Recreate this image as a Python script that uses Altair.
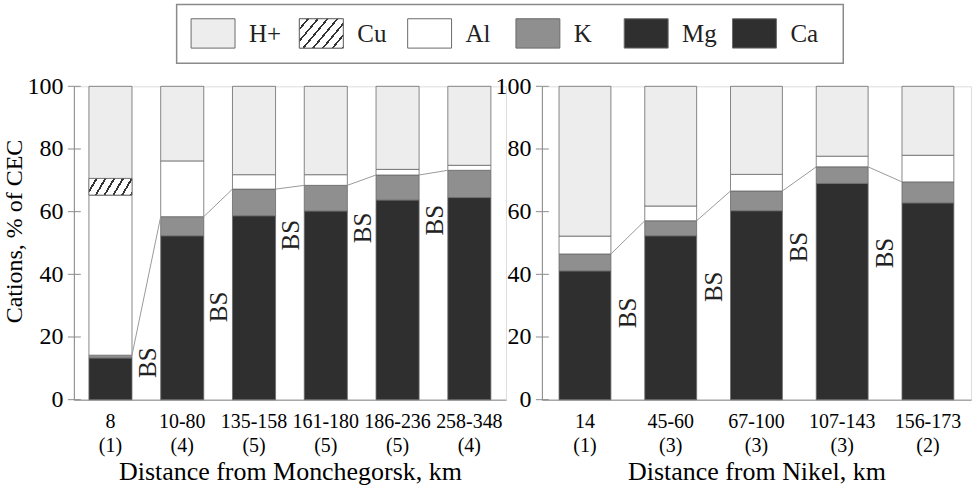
import altair as alt
import pandas as pd

# ---------------- data ----------------
SEGS = ["Ca+Mg", "K", "Al", "Cu", "H+"]

left_dist = ["8", "10-80", "135-158", "161-180", "186-236", "258-348"]
left_n = [1, 4, 5, 5, 5, 4]
left_camg = [13.3, 52.3, 58.7, 60.2, 63.7, 64.5]
left_k = [0.9, 6.1, 8.5, 8.2, 8.0, 8.7]
left_al = [51.1, 17.8, 4.6, 3.4, 1.8, 1.6]
left_cu = [5.3, 0, 0, 0, 0, 0]
left_h = [29.4, 23.8, 28.2, 28.2, 26.5, 25.2]
left_bs_label_y = [11.8, 29.6, 52.5, 54.8, 57.3]

right_dist = ["14", "45-60", "67-100", "107-143", "156-173"]
right_n = [1, 3, 3, 3, 2]
right_camg = [41.1, 52.3, 60.3, 69.0, 62.8]
right_k = [5.4, 4.8, 6.3, 5.3, 6.7]
right_al = [5.7, 4.7, 5.3, 3.4, 8.5]
right_cu = [0, 0, 0, 0, 0]
right_h = [47.8, 38.2, 28.1, 22.3, 22.0]
right_bs_label_y = [27.7, 36.0, 48.7, 46.8]

y_ticks = [0, 20, 40, 60, 80, 100]
legend_names = ["H+", "Cu", "Al", "K", "Mg", "Ca"]

# ---------------- style ----------------
FONT = "Liberation Serif"
TXT = "#222222"
GRAY = "#8c8c8c"
DARK = "#2f2f2f"
K_COL = "#8f8f8f"
H_COL = "#ededed"
AL_COL = "#ffffff"
SEG_COLORS = [DARK, K_COL, AL_COL, AL_COL, H_COL]
LEGEND_COLORS = [H_COL, AL_COL, AL_COL, K_COL, DARK, DARK]


def hatch(n, frac, x2, y2):
    stops = []
    for i in range(n):
        a = i / n
        w = a + (1 - frac) / n
        b = (i + 1) / n
        stops += [
            alt.GradientStop(color="#ffffff", offset=a),
            alt.GradientStop(color="#ffffff", offset=w),
            alt.GradientStop(color="#333333", offset=w),
            alt.GradientStop(color="#333333", offset=b),
        ]
    return alt.LinearGradient(gradient="linear", stops=stops, x1=0, y1=0, x2=x2, y2=y2)


def panel(dist, n, camg, k, al, cu, h, bs_y, width, pad_in, pad_out, title,
          ytitle, gap_shift, with_legend):
    cats = [f"{d}|({m})" for d, m in zip(dist, n)]
    rows = []
    for i, c in enumerate(cats):
        base = 0.0
        for seg, v in zip(SEGS, [camg[i], k[i], al[i], cu[i], h[i]]):
            if v > 0:
                rows.append(dict(cat=c, seg=seg, y0=base, y1=base + v))
            base += v
    df = pd.DataFrame(rows)

    xscale = alt.Scale(domain=cats, paddingInner=pad_in, paddingOuter=pad_out)
    yscale = alt.Scale(domain=[0, 100])

    xaxis = alt.Axis(
        title=title, labelExpr="split(datum.label, '|')", labelAngle=0,
        labelFontSize=20, labelLineHeight=24, ticks=False, tickSize=0,
        labelPadding=12, titleFontSize=26, titlePadding=3, labelOverlap=False,
        labelFont=FONT, titleFont=FONT, titleFontWeight="normal",
    )
    if ytitle:
        yaxis = alt.Axis(
            title=ytitle, values=y_ticks, grid=False, ticks=False, tickSize=6,
            labelPadding=11, labelFontSize=24, titleFontSize=24, titlePadding=0,
            titleY=145, labelFont=FONT, titleFont=FONT, titleFontWeight="normal",
        )
    else:
        yaxis = alt.Axis(
            title=None, values=y_ticks, grid=False, ticks=False, tickSize=6,
            labelPadding=11, labelFontSize=24, labelFont=FONT,
        )

    bars = alt.Chart(df).mark_bar(stroke="#6a6a6a", strokeWidth=0.8).encode(
        x=alt.X("cat:N", scale=xscale, axis=xaxis),
        y=alt.Y("y0:Q", scale=yscale, axis=yaxis),
        y2="y1:Q",
        fill=alt.Fill("seg:N", scale=alt.Scale(domain=SEGS, range=SEG_COLORS), legend=None),
    )
    layers = [bars]

    # tick marks crossing the y axis line
    ticks = alt.Chart(pd.DataFrame({"t": y_ticks})).mark_rule(
        color=GRAY, strokeWidth=1
    ).encode(y="t:Q", x=alt.value(-6), x2=alt.value(7))
    layers.append(ticks)

    if any(v > 0 for v in cu):
        cu_layer = alt.Chart(df).transform_filter("datum.seg == 'Cu'").mark_bar(
            fill=hatch(6, 0.24, 1.167, 0.265), stroke="#6a6a6a", strokeWidth=0.8
        ).encode(x="cat:N", y="y0:Q", y2="y1:Q")
        layers.append(cu_layer)

    bs = [a + b for a, b in zip(camg, k)]
    bs_df = pd.DataFrame({
        "from": cats[:-1], "to": cats[1:], "v0": bs[:-1], "v1": bs[1:],
        "ly": bs_y,
    })
    rule = alt.Chart(bs_df).mark_rule(color="#9a9a9a", strokeWidth=1).encode(
        x=alt.X("from:N", bandPosition=1),
        x2=alt.X2("to:N", bandPosition=0),
        y="v0:Q", y2="v1:Q",
    )
    txt = alt.Chart(bs_df).mark_text(
        text="BS", angle=270, fontSize=25, font=FONT, color=TXT,
        align="center", baseline="middle", dy=-gap_shift,
    ).encode(x=alt.X("to:N", bandPosition=0), y="ly:Q")
    layers += [rule, txt]

    if with_legend:
        leg = pd.DataFrame({"name": legend_names, "slot": list(range(len(legend_names))),
                            "col": LEGEND_COLORS})
        box = alt.Chart(pd.DataFrame({"a": [0]})).mark_rect(
            fill="transparent", stroke="#8a8a8a", strokeWidth=1.5
        ).encode(x=alt.value(103), x2=alt.value(771), y=alt.value(-82), y2=alt.value(-23))
        base = alt.Chart(leg).transform_calculate(
            px="117.5 + 108.5 * datum.slot", px2="117.5 + 108.5 * datum.slot + 44",
            lx="117.5 + 108.5 * datum.slot + 58",
        )
        sym = base.mark_rect(stroke="#6a6a6a", strokeWidth=1).encode(
            x=alt.X("px:Q", scale=None), x2="px2:Q",
            y=alt.value(-67.7), y2=alt.value(-38.3),
            fill=alt.Fill("col:N", scale=None),
        )
        sym_cu = base.transform_filter("datum.name == 'Cu'").mark_rect(
            fill=hatch(7, 0.22, 1.19, 0.664), stroke="#6a6a6a", strokeWidth=1
        ).encode(x=alt.X("px:Q", scale=None), x2="px2:Q",
                 y=alt.value(-67.7), y2=alt.value(-38.3))
        lab = base.mark_text(align="left", baseline="middle", fontSize=25, font=FONT,
                             color=TXT).encode(
            x=alt.X("lx:Q", scale=None), y=alt.value(-52.5), text="name:N")
        layers += [box, sym, sym_cu, lab]

    return alt.layer(*layers).properties(width=width, height=314)


left = panel(left_dist, left_n, left_camg, left_k, left_al, left_cu, left_h,
             left_bs_label_y, 433, 0.4, 0.21, "Distance from Monchegorsk, km",
             "Cations, % of CEC", 13, True)
right = panel(right_dist, right_n, right_camg, right_k, right_al, right_cu, right_h,
              right_bs_label_y, 430, 0.395, 0.2, "Distance from Nikel, km",
              None, 17, False)

chart = alt.hconcat(left, right, spacing=36, bounds="flush").properties(
    padding={"left": 2, "top": 2, "right": 2, "bottom": 2}
).configure_view(stroke=None).configure_axis(
    domainColor=GRAY, tickColor=GRAY, labelColor=TXT, titleColor=TXT,
).configure(background="white")

chart.save("out.html", embed_options={"renderer": "svg", "actions": False})
